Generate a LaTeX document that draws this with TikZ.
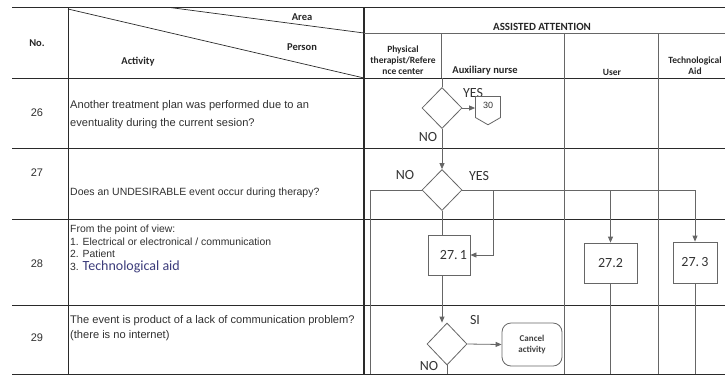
\documentclass[tikz,border=0pt]{standalone}
\usepackage{fontspec}
\setmainfont{Liberation Sans}
\newfontfamily\calfont{Carlito}
\usetikzlibrary{shapes.geometric,shapes.symbols,arrows.meta}
\definecolor{tline}{HTML}{2A2A2A}
\definecolor{fline}{HTML}{666666}
\definecolor{txt}{HTML}{303030}
\definecolor{aidblue}{HTML}{3B3B7A}

\begin{document}
\begin{tikzpicture}[x=1pt,y=-1pt,
  grid/.style={draw=tline,line width=0.9pt},
  lane/.style={draw=fline,line width=0.8pt},
  flow/.style={draw=fline,line width=0.8pt},
  arr/.style={flow,-{Triangle[length=6pt,width=5pt]}},
  dec/.style={diamond,draw=fline,line width=0.8pt,minimum width=40pt,minimum height=41pt,inner sep=0pt,fill=white},
  proc/.style={rectangle,draw=fline,line width=0.8pt,inner sep=0pt,fill=white,
    font=\calfont\fontsize{14}{16}\selectfont,text=black!80},
  head/.style={font=\calfont\bfseries\fontsize{10.5}{12}\selectfont,text=black!85},
  colhead/.style={font=\calfont\bfseries\fontsize{9.5}{11}\selectfont,text=black!85,align=center,anchor=south,inner sep=1pt},
  num/.style={font=\fontsize{11}{12}\selectfont,text=txt},
  body/.style={text=txt,align=left,anchor=west,inner sep=0pt},
  lbl/.style={font=\calfont\fontsize{14}{16}\selectfont,text=black!80,inner sep=0pt},
]
\useasboundingbox (0,0) rectangle (725,376);

% table rules
\draw[grid] (12,7.5) -- (725,7.5);
\draw[grid] (12,78) -- (725,78);
\draw[grid] (12,148) -- (725,148);
\draw[grid] (12,219) -- (725,219);
\draw[grid] (12,305) -- (725,305);
\draw[grid] (12,374) -- (725,374);
\draw[grid] (68,7.5) -- (68,374);
\draw[grid,line width=1.2pt] (364,7.5) -- (364,374);
\draw[lane] (364,33) -- (725,33);
\draw[lane] (441,33) -- (441,78);
\draw[lane] (564,33) -- (564,374);
\draw[lane] (658,33) -- (658,374);
% split header cell
\draw[grid,line width=0.7pt] (68,9) -- (364,78);
\draw[grid,line width=0.7pt] (170,7.5) -- (364,33);

% header texts
\node[head] (hNo) at (37,43) {No.};
\node[head] (hAct) at (138,62) {Activity};
\node[head] (hPer) at (302,47) {Person};
\node[head] (hArea) at (302,17) {Area};
\node[head,font=\calfont\bfseries\fontsize{11}{12}\selectfont] (hAA) at (542,27) {ASSISTED ATTENTION};
\node[colhead] (cPT) at (403,76) {Physical\\therapist/Refere\\nce center};
\node[colhead,font=\calfont\bfseries\fontsize{10.5}{12}\selectfont] (cAux) at (485,76.5) {Auxiliary nurse};
\node[colhead] (cUser) at (612,77) {User};
\node[colhead] (cTech) at (695,76) {Technological\\Aid};

% row numbers
\node[num] (n26) at (37,113) {26};
\node[num] (n27) at (37,173) {27};
\node[num] (n28) at (37,264) {28};
\node[num] (n29) at (37,338) {29};

% activity texts
\node[body,font=\fontsize{11.1}{18}\selectfont] (t26) at (70,115)
  {Another treatment plan was performed due to an\\eventuality during the current sesion?};
\node[body,font=\fontsize{10.5}{12}\selectfont] (t27) at (70,193)
  {Does an UNDESIRABLE event occur during therapy?};
\node[body,font=\fontsize{10.4}{12.4}\selectfont] (t28) at (70,249)
  {From the point of view:\\1. Electrical or electronical / communication\\2. Patient\\
   3. {\calfont\fontsize{14}{12.4}\selectfont\color{aidblue}Technological aid}};
\node[body,font=\fontsize{11.1}{15.5}\selectfont] (t29) at (70,328)
  {The event is product of a lack of communication problem?\\(there is no internet)};

% flow labels
\node[lbl] (y26) at (473,93) {YES};
\node[lbl] (no26) at (428,137) {NO};
\node[lbl] (no27) at (405,175) {NO};
\node[lbl] (yes27) at (479,176) {YES};
\node[lbl] (si29) at (475,320) {SI};
\node[lbl] (no29) at (429,366) {NO};

% flow shapes
\node[dec] (d26) at (442,108) {};
\node[signal,signal to=south,signal from=nowhere,draw=fline,fill=white,line width=0.8pt,
  minimum width=25pt,minimum height=24pt,signal pointer angle=120,inner sep=0pt,
  font=\fontsize{9}{10}\selectfont,text=black!80] (off30) at (488,107) {\raisebox{3pt}{30}};
\node[dec] (d27) at (442,190) {};
\node[proc,minimum width=42pt,minimum height=40pt] (p271) at (449,255) {\hspace*{9pt}27.\,1};
\node[proc,minimum width=53pt,minimum height=40pt] (p272) at (610.5,263) {27.2};
\node[proc,minimum width=44pt,minimum height=41pt] (p273) at (695,262.5) {27.\,3};
\node[dec,minimum width=40pt,minimum height=42pt] (d29) at (447,344) {};
\node[rectangle,rounded corners=9pt,draw=fline,line width=0.8pt,fill=white,
  minimum width=60pt,minimum height=43pt,align=center,inner sep=0pt,
  font=\calfont\bfseries\fontsize{9}{11}\selectfont,text=black!75] (cancel) at (532,344.5) {Cancel\\activity};

% free ends
\coordinate (top26) at (442,78);
\coordinate (bot) at (370,374);
\coordinate (j1) at (493,190);
\coordinate (j2) at (610.5,190);
\coordinate (j3) at (695,190);

% connectors
\draw[flow] (top26) -- (d26.north);
\draw[arr] (d26.east) -- (d26.east -| off30.west);
\draw[arr] (d26.south) -- (d27.north);
\draw[flow] (d27.west) -| (bot);
\draw[flow] (d27.east) -- (j3);
\draw[arr] (j1) |- (p271.east);
\draw[arr] (j2) -- (p272.north);
\draw[arr] (j3) -- (p273.north);
\draw[flow] (d27.south) -- (d27.south |- p271.north);
\draw[arr] (d27.south |- p271.south) -- (d27.south |- d29.north);
\draw[arr] (d29.east) -- (cancel.west);
\draw[flow] (d29.south) -- (d29.south |- bot);
\draw[flow] (p272.south) -- (p272.south |- bot);
\draw[flow] (p273.south) -- (p273.south |- bot);
\end{tikzpicture}
\end{document}
